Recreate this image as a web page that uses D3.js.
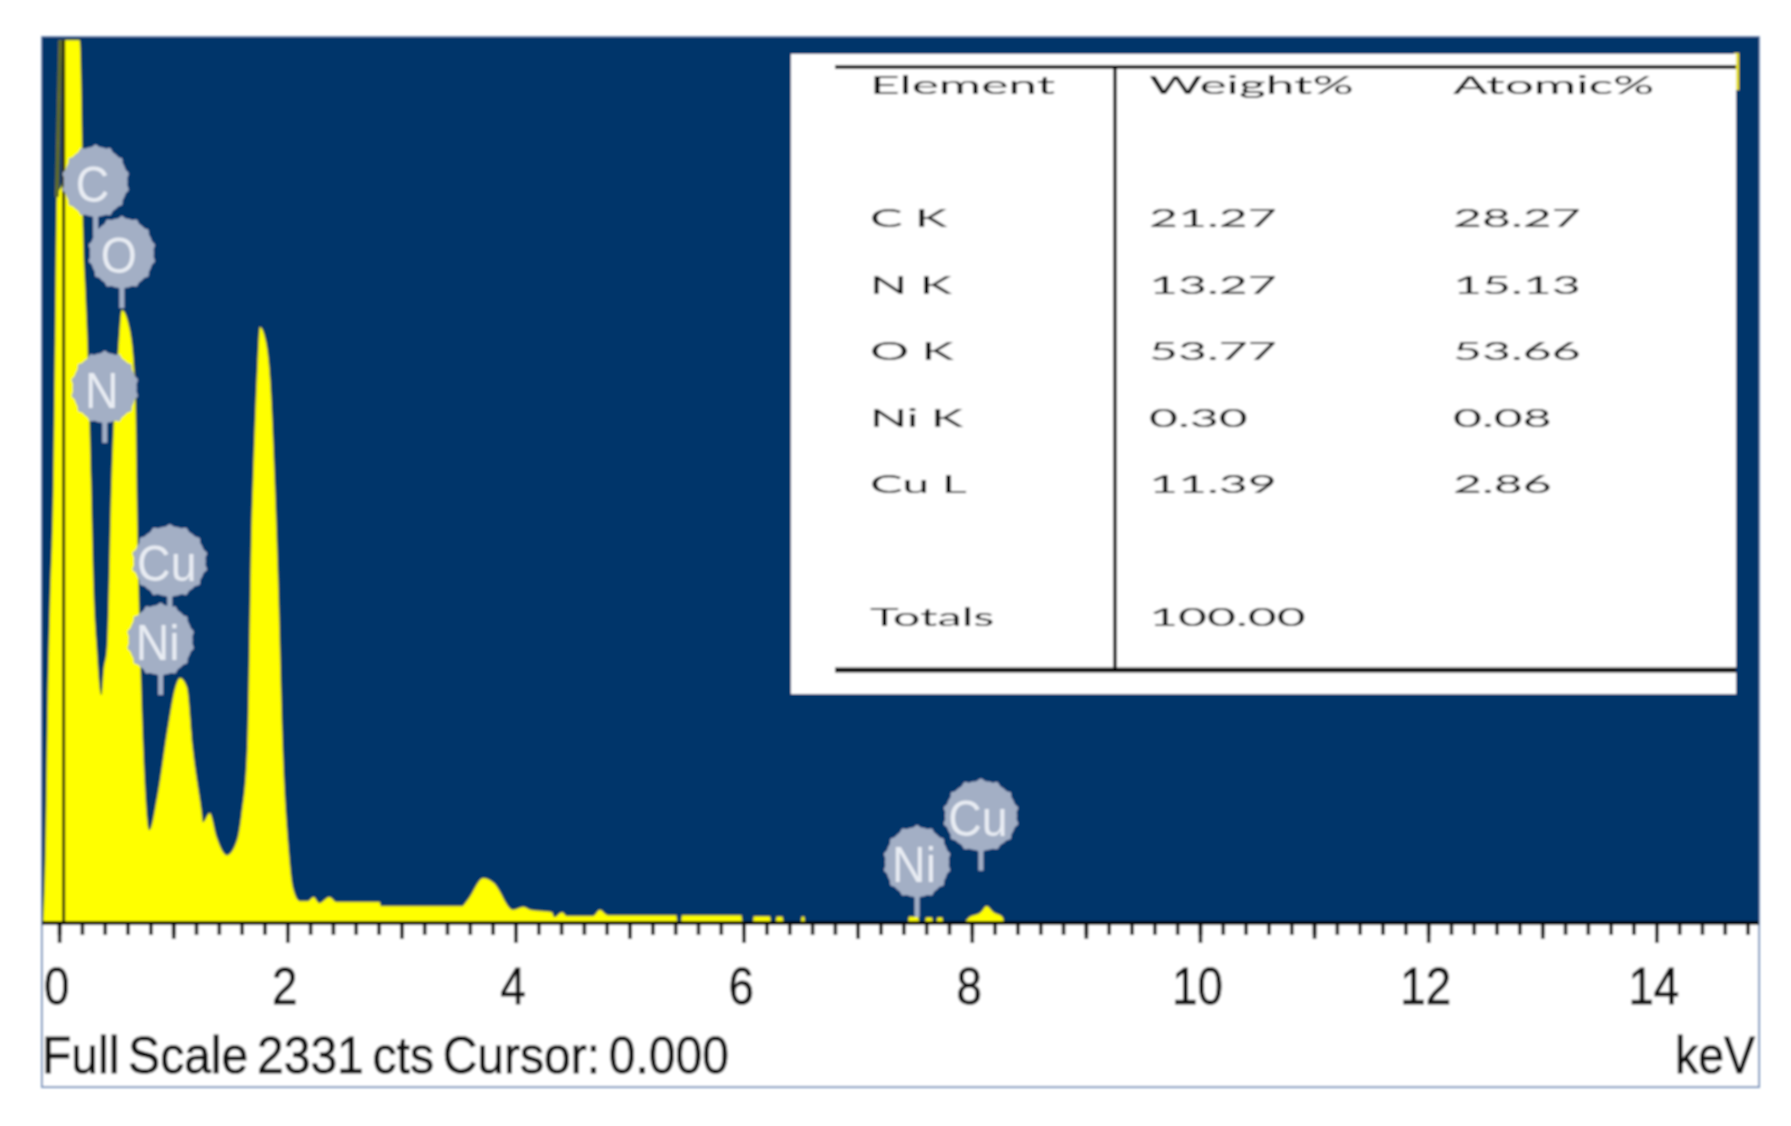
<!DOCTYPE html>
<html>
<head>
<meta charset="utf-8">
<script src="https://cdn.jsdelivr.net/npm/d3@7"></script>
<style>
html, body { margin: 0; padding: 0; background: #fff; }
svg { display: block; }
text { font-family: "Liberation Sans", Arial, sans-serif; }
.tbl text { font-family: Lato, "Liberation Sans", sans-serif; fill: #000; }
</style>
</head>
<body>
<div id="chart"></div>
<script>
//data, keV and counts
const energy = [-0.14,-0.12,-0.10,-0.08,-0.05,-0.035,-0.02,0.03,0.035,0.18,0.20,0.21,0.23,0.25,0.28,0.30,0.33,0.37,0.39,0.42,0.46,0.52,0.55,0.62,0.67,0.68,0.71,0.75,0.79,0.86,0.95,1.02,1.06,1.12,1.17,1.25,1.26,1.32,1.38,1.47,1.56,1.60,1.65,1.69,1.70,1.74,1.76,1.81,1.85,1.89,1.92,1.96,2.01,2.05,2.11,2.18,2.23,2.28,2.37,2.43,2.81,2.82,3.53,3.58,3.72,3.81,3.98,4.07,4.13,4.32,4.34,4.41,4.45,4.68,4.74,4.81,5.41,5.42,5.45,5.46,5.98,5.99,6.08,6.09,6.23,6.24,6.28,6.29,6.34,6.35,6.50,6.51,6.53,6.54,7.44,7.45,7.53,7.54,7.59,7.60,7.65,7.66,7.69,7.70,7.74,7.75,7.93,7.98,8.08,8.13,8.19,8.27,8.28];
const counts = [0,190,585,848,1164,1533,1910,1950,2323,2323,2086,1823,1665,1515,1164,901,724,598,664,724,1164,1515,1612,1559,1383,1164,724,374,242,329,506,619,643,619,461,287,263,287,224,176,216,287,461,1077,1164,1472,1567,1533,1428,1164,901,461,198,90,55,55,66,50,66,53,53,42,42,58,116,103,32,40,32,26,13,26,16,16,32,18,18,0,0,18,18,0,0,15,15,0,0,14,14,0,0,14,14,0,0,14,14,0,0,12,12,0,0,12,12,0,0,13,26,42,26,13,0];

const majorTicks = [0,2,4,6,8,10,12,14];
const midTicks = [1,3,5,7,9,11,13];
const minorTicks = d3.range(0, 14.9, 0.2);

const badgeLabels = ["C","O","N","Cu","Ni","Ni","Cu"];
const badgeEnergy = [0.32,0.55,0.40,0.97,0.89,7.52,8.08];
const badgeCounts = [1950,1762,1407,950,743,158,280];

const tableHeader = ["Element","Weight%","Atomic%"];
const tableElements = ["C K","N K","O K","Ni K","Cu L","Totals"];
const tableWeight = ["21.27","13.27","53.77","0.30","11.39","100.00"];
const tableAtomic = ["28.27","15.13","53.66","0.08","2.86",""];
const tableRows = [2,3,4,5,6,8];

//setup
const width = 1791, height = 1126;
const plot = { left: 42, right: 1759, top: 37, bottom: 922, frameBottom: 1087 };
const navy = "#03346a";
const badgeColor = "#a3afc5";

const x = d3.scaleLinear().domain([-0.15, 14.9]).range([plot.left, plot.right]);
const y = d3.scaleLinear().domain([0, 2331]).range([plot.bottom, plot.top]);

const svg = d3.select("#chart").append("svg")
    .attr("width", width)
    .attr("height", height);

const defs = svg.append("defs");
defs.append("filter").attr("id", "soft")
    .attr("x", "-2%").attr("y", "-2%").attr("width", "104%").attr("height", "104%")
    .append("feGaussianBlur").attr("stdDeviation", 0.8);
defs.append("clipPath").attr("id", "plotclip").append("rect")
    .attr("x", plot.left).attr("y", plot.top)
    .attr("width", plot.right - plot.left).attr("height", plot.bottom - plot.top);

const root = svg.append("g").attr("filter", "url(#soft)");

root.append("rect")
    .attr("x", plot.left).attr("y", plot.top)
    .attr("width", plot.right - plot.left).attr("height", plot.frameBottom - plot.top)
    .attr("fill", "#fff").attr("stroke", "#7f99c0").attr("stroke-width", 2);
root.append("rect")
    .attr("x", plot.left).attr("y", plot.top)
    .attr("width", plot.right - plot.left).attr("height", plot.bottom - plot.top)
    .attr("fill", navy);

//spectrum
const area = d3.area()
    .curve(d3.curveMonotoneX)
    .x((d, i) => x(energy[i]))
    .y0(y(0))
    .y1(d => y(d));
root.append("path")
    .datum(counts)
    .attr("clip-path", "url(#plotclip)")
    .attr("d", area)
    .attr("fill", "#ffff00")
    .attr("stroke", "#8f9a22")
    .attr("stroke-width", 0.8);

//dim olive edge left of the cursor line
root.append("line")
    .attr("x1", x(-0.02)).attr("x2", x(0.01))
    .attr("y1", y(1910)).attr("y2", y(2323))
    .attr("stroke", "#5f6b2a").attr("stroke-width", 4);

//cursor line at zero
root.append("line")
    .attr("x1", x(0.04)).attr("x2", x(0.04))
    .attr("y1", y(2323)).attr("y2", y(0))
    .attr("stroke", "#2a2a08").attr("stroke-width", 3);

//axis, three tick lengths
function drawAxis(values, len, fmt) {
    const g = root.append("g")
        .attr("transform", "translate(0," + plot.bottom + ")")
        .call(d3.axisBottom(x).tickValues(values).tickSize(len).tickSizeOuter(0).tickFormat(fmt || ""));
    g.select(".domain").remove();
    g.selectAll("line").attr("stroke", "#000").attr("stroke-width", 3.6);
    return g;
}
drawAxis(minorTicks, 13);
drawAxis(midTicks, 17);
const majorAxis = drawAxis(majorTicks, 21, d3.format("d"));
majorAxis.selectAll("text")
    .attr("font-size", 52)
    .attr("fill", "#111")
    .attr("stroke", "#111")
    .attr("stroke-width", 0.8)
    .attr("text-anchor", "middle")
    .attr("y", 0).attr("dy", 0)
    .attr("transform", "translate(-3,82) scale(0.88,1)");

root.append("line")
    .attr("x1", plot.left).attr("x2", plot.right)
    .attr("y1", plot.bottom + 1).attr("y2", plot.bottom + 1)
    .attr("stroke", "#000").attr("stroke-width", 4);

//status line
root.append("text")
    .attr("x", plot.left).attr("y", 1073)
    .attr("font-size", 52).attr("fill", "#111")
    .attr("stroke", "#111").attr("stroke-width", 0.8)
    .attr("word-spacing", -5)
    .attr("textLength", 687).attr("lengthAdjust", "spacingAndGlyphs")
    .text("Full Scale 2331 cts Cursor: 0.000");
root.append("text")
    .attr("x", 1675).attr("y", 1073)
    .attr("font-size", 52).attr("fill", "#111")
    .attr("stroke", "#111").attr("stroke-width", 0.8)
    .attr("textLength", 80).attr("lengthAdjust", "spacingAndGlyphs")
    .text("keV");

//element badges
const gearPoints = d3.range(0, 56).map(i => [i / 56 * 2 * Math.PI, i % 4 === 0 ? 1.06 : 1]);
const gear = d3.lineRadial().curve(d3.curveCardinalClosed)(gearPoints);

const badges = root.selectAll(".badge")
    .data(badgeLabels)
    .enter().append("g")
    .attr("class", "badge")
    .attr("transform", (d, i) => "translate(" + x(badgeEnergy[i]) + "," + y(badgeCounts[i]) + ")");
badges.append("rect")
    .attr("x", -2.5).attr("y", 20)
    .attr("width", 5).attr("height", 35)
    .attr("fill", badgeColor);
badges.append("path")
    .attr("d", gear)
    .attr("transform", d => "scale(" + (d === "Cu" ? 36 : 32) + ",35)")
    .attr("fill", badgeColor);
badges.append("text")
    .attr("font-size", 50)
    .attr("fill", "#e8ecf3")
    .attr("text-anchor", "middle")
    .attr("transform", "translate(-3,20) scale(0.93,1)")
    .text(d => d);

//sliver of a peak that sticks out behind the table
root.append("rect")
    .attr("x", 1734).attr("y", 53)
    .attr("width", 5).attr("height", 37)
    .attr("fill", "#e6e000");

//results table
const tbl = root.append("g").attr("class", "tbl");
const rowY = d3.scaleLinear().domain([0, 8]).range([94, 626]);
const colX = d3.scaleOrdinal().domain([0, 1, 2]).range([870, 1149, 1453]);

tbl.append("rect")
    .attr("x", 791).attr("y", 54)
    .attr("width", 945).attr("height", 640)
    .attr("fill", "#fff");
tbl.append("line").attr("x1", 835).attr("x2", 1736).attr("y1", 67).attr("y2", 67)
    .attr("stroke", "#000").attr("stroke-width", 4);
tbl.append("line").attr("x1", 835).attr("x2", 1736).attr("y1", 670).attr("y2", 670)
    .attr("stroke", "#000").attr("stroke-width", 5);
tbl.append("line").attr("x1", 1115).attr("x2", 1115).attr("y1", 66).attr("y2", 670)
    .attr("stroke", "#000").attr("stroke-width", 3.5);

function cell(col, row, str, sx) {
    tbl.append("text")
        .attr("font-size", 25)
        .attr("transform", "translate(" + colX(col) + "," + rowY(row) + ") scale(" + sx + ",1)")
        .text(str);
}
tableHeader.forEach((d, i) => cell(i, 0, d, 2.06));
tableRows.forEach((r, i) => {
    cell(0, r, tableElements[i], 1.95);
    cell(1, r, tableWeight[i], 2);
    cell(2, r, tableAtomic[i], 2);
});
</script>
</body>
</html>
